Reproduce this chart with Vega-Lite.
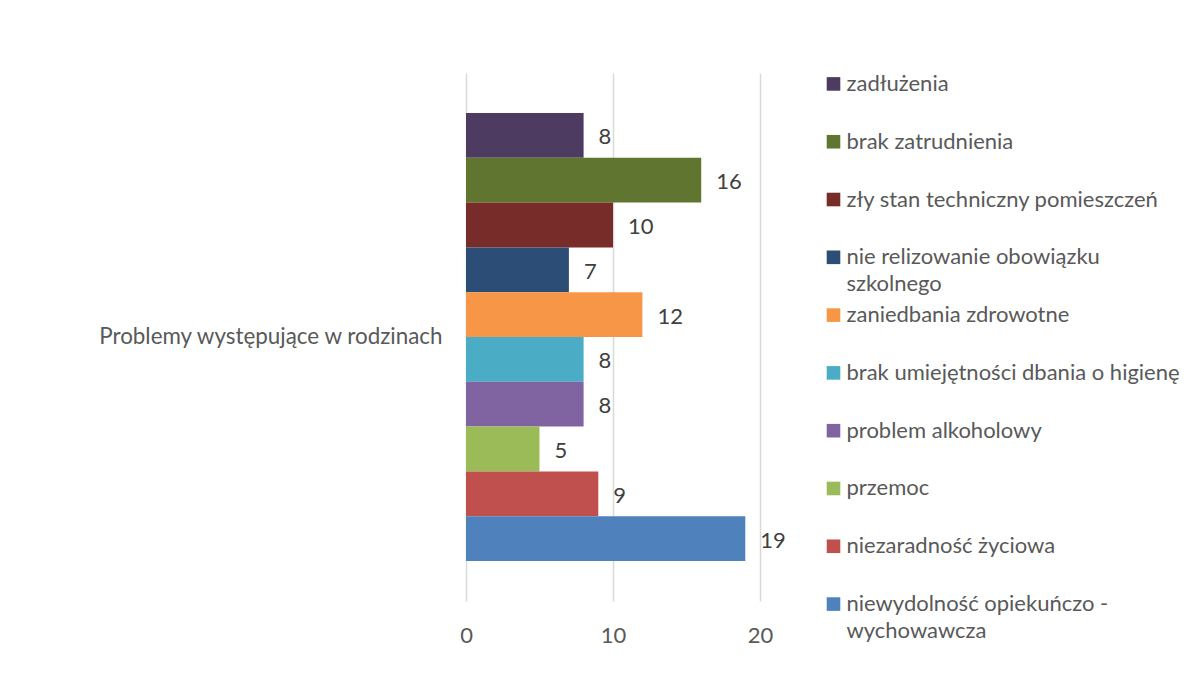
{
  "$schema": "https://vega.github.io/schema/vega-lite/v6.json",
  "width": 294,
  "height": 528,
  "autosize": {"type": "none"},
  "padding": {"left": 466, "top": 73, "right": 424, "bottom": 74},
  "background": "white",
  "config": {
    "view": {"stroke": null},
    "font": "Lato"
  },
  "data": {
    "values": [
      {"kategoria": "Problemy występujące w rodzinach", "problem": "zadłużenia", "liczba": 8},
      {"kategoria": "Problemy występujące w rodzinach", "problem": "brak zatrudnienia", "liczba": 16},
      {"kategoria": "Problemy występujące w rodzinach", "problem": "zły stan techniczny pomieszczeń", "liczba": 10},
      {"kategoria": "Problemy występujące w rodzinach", "problem": "nie relizowanie obowiązku szkolnego", "liczba": 7},
      {"kategoria": "Problemy występujące w rodzinach", "problem": "zaniedbania zdrowotne", "liczba": 12},
      {"kategoria": "Problemy występujące w rodzinach", "problem": "brak umiejętności dbania o higienę", "liczba": 8},
      {"kategoria": "Problemy występujące w rodzinach", "problem": "problem alkoholowy", "liczba": 8},
      {"kategoria": "Problemy występujące w rodzinach", "problem": "przemoc", "liczba": 5},
      {"kategoria": "Problemy występujące w rodzinach", "problem": "niezaradność życiowa", "liczba": 9},
      {"kategoria": "Problemy występujące w rodzinach", "problem": "niewydolność opiekuńczo - wychowawcza", "liczba": 19}
    ]
  },
  "layer": [
    {
      "encoding": {
        "y": {
          "field": "kategoria",
          "type": "nominal",
          "title": null,
          "scale": {"paddingInner": 0, "paddingOuter": 0.0893},
          "axis": {
            "ticks": false,
            "domain": false,
            "labelPadding": 24,
            "labelFontSize": 22.4,
            "labelColor": "#595959",
            "labelLimit": 500
          }
        },
        "yOffset": {
          "field": "problem",
          "type": "nominal",
          "sort": ["zadłużenia", "brak zatrudnienia", "zły stan techniczny pomieszczeń", "nie relizowanie obowiązku szkolnego", "zaniedbania zdrowotne", "brak umiejętności dbania o higienę", "problem alkoholowy", "przemoc", "niezaradność życiowa", "niewydolność opiekuńczo - wychowawcza"],
          "scale": {"paddingInner": 0, "paddingOuter": 0}
        },
        "x": {
          "field": "liczba",
          "type": "quantitative",
          "title": null,
          "scale": {"domain": [0, 20], "nice": false, "zero": true},
          "axis": {
            "values": [0, 10, 20],
            "ticks": false,
            "domain": false,
            "grid": true,
            "gridColor": "#d9d9d9",
            "gridWidth": 1.5,
            "labelFlush": false,
            "labelPadding": 24,
            "labelFontSize": 22,
            "labelColor": "#595959"
          }
        }
      },
      "layer": [
        {
          "mark": {"type": "bar"},
          "encoding": {
            "color": {
              "field": "problem",
              "type": "nominal",
              "scale": {
                "domain": ["zadłużenia", "brak zatrudnienia", "zły stan techniczny pomieszczeń", "nie relizowanie obowiązku szkolnego", "zaniedbania zdrowotne", "brak umiejętności dbania o higienę", "problem alkoholowy", "przemoc", "niezaradność życiowa", "niewydolność opiekuńczo - wychowawcza"],
                "range": ["#4D3B62", "#5F7530", "#772C2A", "#2C4D75", "#F79646", "#4BACC6", "#8064A2", "#9BBB59", "#C0504D", "#4F81BD"]
              },
              "legend": null
            }
          }
        },
        {
          "mark": {"type": "text", "align": "left", "baseline": "middle", "dx": 15, "dy": 2, "fontSize": 22, "color": "#404040"},
          "encoding": {
            "text": {"field": "liczba", "type": "quantitative"}
          }
        }
      ]
    },
    {
      "mark": {"type": "point", "shape": "square", "filled": true, "size": 185, "opacity": 1, "strokeWidth": 0, "yOffset": 7},
      "encoding": {
        "x": {"datum": 25, "type": "quantitative", "scale": {"domain": [0, 20], "nice": false}},
        "y": {
          "field": "problem",
          "type": "nominal",
          "sort": ["zadłużenia", "brak zatrudnienia", "zły stan techniczny pomieszczeń", "nie relizowanie obowiązku szkolnego", "zaniedbania zdrowotne", "brak umiejętności dbania o higienę", "problem alkoholowy", "przemoc", "niezaradność życiowa", "niewydolność opiekuńczo - wychowawcza"],
          "title": null,
          "scale": {"type": "point", "padding": 0.068},
          "axis": {
            "orient": "right",
            "ticks": false,
            "domain": false,
            "grid": false,
            "labelPadding": 86,
            "labelFontSize": 22,
            "labelColor": "#595959",
            "labelLimit": 1000,
            "labelOverlap": false,
            "labelBound": false,
            "labelAlign": "left",
            "labelBaseline": "line-top",
            "labelLineHeight": 27,
            "labelOffset": -6.5,
            "labelExpr": "datum.label == 'nie relizowanie obowiązku szkolnego' ? ['nie relizowanie obowiązku', 'szkolnego'] : datum.label == 'niewydolność opiekuńczo - wychowawcza' ? ['niewydolność opiekuńczo -', 'wychowawcza'] : datum.label"
          }
        },
        "color": {
          "field": "problem",
          "type": "nominal",
          "legend": null
        }
      }
    }
  ],
  "resolve": {"scale": {"y": "independent"}}
}
